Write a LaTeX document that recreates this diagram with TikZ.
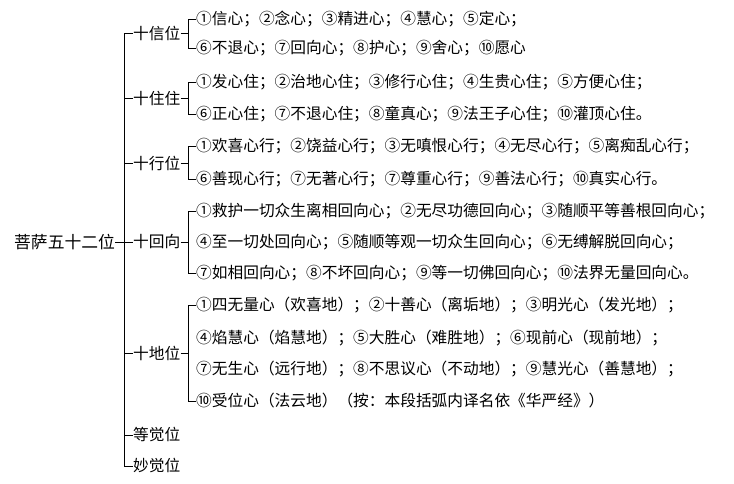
\documentclass[tikz,border=0pt]{standalone}
\usepackage{fontspec}
\newfontfamily\cjk{Noto Sans CJK SC}
\tikzstyle{root}=[anchor=west,inner sep=0pt,font=\cjk\fontsize{16.8}{18}\selectfont]
\tikzstyle{stage}=[anchor=west,inner sep=0pt,font=\cjk\fontsize{15.7}{17}\selectfont]
\tikzstyle{entry}=[anchor=west,inner sep=0pt,font=\cjk\fontsize{15.7}{17}\selectfont]
\tikzstyle{link}=[line width=0.8pt]
\begin{document}
\begin{tikzpicture}[x=1pt,y=-1pt]
    \useasboundingbox (0,0) rectangle (734,483);
    %Root
    \node[root] (pusa) at (14,242) {菩萨五十二位};
    %Stages
    \foreach \name/\y/\txt in {xin/33/十信位, zhu/98/十住住, xing/163/十行位,
                               hui/242/十回向, di/353/十地位, deng/435/等觉位, miao/466/妙觉位}
    \node[stage] (\name) at (133,\y) {\txt};
    %Entries
    \foreach \name/\y/\txt in {xin1/19/①信心；②念心；③精进心；④慧心；⑤定心；,
                               xin2/48/⑥不退心；⑦回向心；⑧护心；⑨舍心；⑩愿心,
                               zhu1/82/①发心住；②治地心住；③修行心住；④生贵心住；⑤方便心住；,
                               zhu2/114/⑥正心住；⑦不退心住；⑧童真心；⑨法王子心住；⑩灌顶心住。,
                               xing1/146/①欢喜心行；②饶益心行；③无嗔恨心行；④无尽心行；⑤离痴乱心行；,
                               xing2/179/⑥善现心行；⑦无著心行；⑦尊重心行；⑨善法心行；⑩真实心行。,
                               hui1/211/①救护一切众生离相回向心；②无尽功德回向心；③随顺平等善根回向心；,
                               hui2/242/④至一切处回向心；⑤随顺等观一切众生回向心；⑥无缚解脱回向心；,
                               hui3/273/⑦如相回向心；⑧不坏回向心；⑨等一切佛回向心；⑩法界无量回向心。,
                               di1/305/①四无量心（欢喜地）；②十善心（离垢地）；③明光心（发光地）；,
                               di2/338/④焰慧心（焰慧地）；⑤大胜心（难胜地）；⑥现前心（现前地）；,
                               di3/369/⑦无生心（远行地）；⑧不思议心（不动地）；⑨慧光心（善慧地）；,
                               di4/401/⑩受位心（法云地）（按：本段括弧内译名依《华严经》）}
    \node[entry] (\name) at (196,\y) {\txt};
    %Spine
    \draw[link] (xin.west) -- ++(-9,0) |- (miao.west);
    \foreach \name in {zhu,xing,di,deng}
    \draw[link] (\name.west) -- ++(-9,0);
    \draw[link] (pusa.east) -- (hui.west);
    %Brackets
    \foreach \stage/\first/\last in {xin/xin1/xin2, zhu/zhu1/zhu2, xing/xing1/xing2,
                                     hui/hui1/hui3, di/di1/di4}{
    \draw[link] (\stage.east) -- ++(8,0);
    \draw[link] (\first.west) -- ++(-8,0) |- (\last.west);
    }
\end{tikzpicture}
\end{document}
